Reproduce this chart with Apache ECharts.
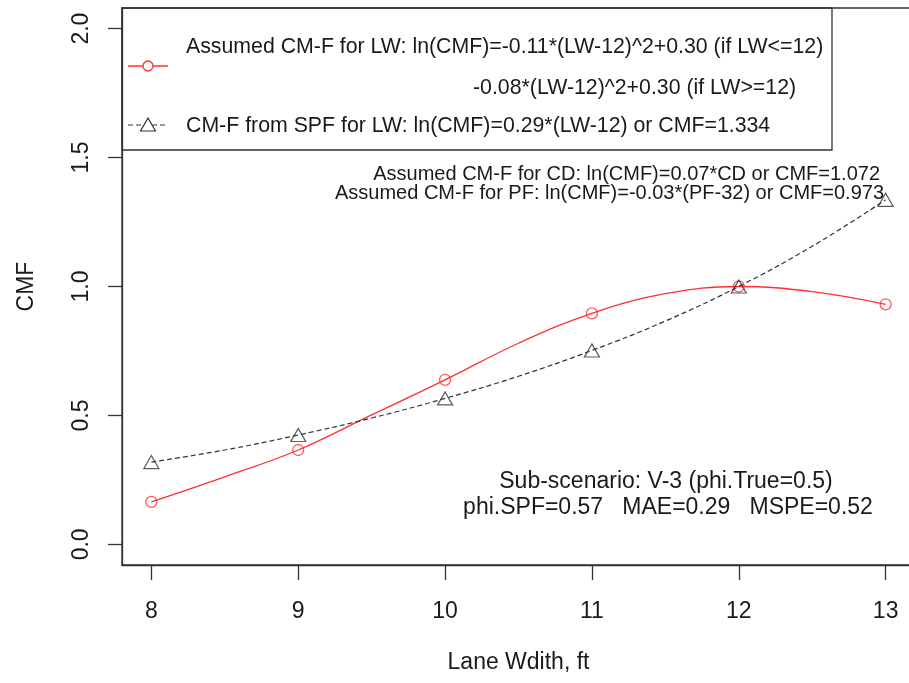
<!DOCTYPE html>
<html><head><meta charset="utf-8">
<script src="https://cdn.jsdelivr.net/npm/echarts@6/dist/echarts.min.js"></script>
<style>html,body{margin:0;padding:0;background:#fff}#c{width:909px;height:683px}</style>
</head><body><div id="c"></div>
<script>
// Data
const lwCurve = [8, 8.5, 9, 9.5, 10, 10.5, 11, 11.5, 12, 12.5, 13];
const assumedCMF = [0.165, 0.262, 0.366, 0.502, 0.638, 0.78, 0.896, 0.972, 1.0, 0.98, 0.931];
const spfCMF = [0.319, 0.366, 0.424, 0.49, 0.566, 0.652, 0.752, 0.866, 1.0, 1.156, 1.336];
const xTicks = [8, 9, 10, 11, 12, 13];
const yTicks = [0, 0.5, 1.0, 1.5, 2.0];

const legendLines = [
  'Assumed CM-F for LW: ln(CMF)=-0.11*(LW-12)^2+0.30 (if LW<=12)',
  '-0.08*(LW-12)^2+0.30 (if LW>=12)',
  'CM-F from SPF for LW: ln(CMF)=0.29*(LW-12) or CMF=1.334'
];
const noteTop = [
  'Assumed CM-F for CD: ln(CMF)=0.07*CD or CMF=1.072',
  'Assumed CM-F for PF: ln(CMF)=-0.03*(PF-32) or CMF=0.973'
];
const noteBottom = [
  'Sub-scenario: V-3 (phi.True=0.5)',
  'phi.SPF=0.57   MAE=0.29   MSPE=0.52'
];

const FONT = '"Liberation Sans", Arial, sans-serif';
const FS = 23;
const TXT = '#1a1a1a';
const AX = '#333';

const pair = (xs, ys) => xs.map((x, i) => [x, ys[i]]);
const atTicks = (xs, ys) => xs.map((x, i) => [x, ys[i]]).filter(p => xTicks.includes(p[0]));

const chart = echarts.init(document.getElementById('c'), null, {renderer: 'canvas'});

function txt(x, y, s, align, fs) {
  return {type: 'text', x: x, y: y, silent: true,
    style: {text: s, font: (fs || FS) + 'px ' + FONT, fill: TXT, align: align || 'left', verticalAlign: 'middle'}};
}

chart.setOption({
  animation: false,
  backgroundColor: '#fff',
  grid: {left: 122, top: 8, width: 793, height: 557, show: true, borderColor: AX, borderWidth: 1.3,
    backgroundColor: 'transparent', containLabel: false, outerBoundsMode: 'none'},
  xAxis: {
    type: 'value', min: 7.8, max: 13.2,
    name: 'Lane Wdith, ft', nameLocation: 'middle', nameGap: 86,
    nameTextStyle: {fontFamily: FONT, fontSize: FS, color: TXT},
    axisLine: {show: true, onZero: false, lineStyle: {color: AX, width: 1.3}},
    axisTick: {show: true, length: 15, customValues: xTicks, lineStyle: {color: AX, width: 1.3}},
    axisLabel: {customValues: xTicks, margin: 35, fontFamily: FONT, fontSize: FS, color: TXT},
    splitLine: {show: false}
  },
  yAxis: {
    type: 'value', min: -0.08, max: 2.08,
    name: 'CMF', nameLocation: 'middle', nameGap: 84,
    nameTextStyle: {fontFamily: FONT, fontSize: FS, color: TXT},
    axisLine: {show: true, onZero: false, lineStyle: {color: AX, width: 1.3}},
    axisTick: {show: true, length: 14, customValues: yTicks, lineStyle: {color: AX, width: 1.3}},
    axisLabel: {customValues: yTicks, rotate: 90, margin: 29, fontFamily: FONT, fontSize: FS, color: TXT,
      formatter: v => v.toFixed(1)},
    splitLine: {show: false}
  },
  series: [
    {type: 'line', data: pair(lwCurve, assumedCMF), smooth: 0.4, showSymbol: false,
      lineStyle: {color: '#ff3030', width: 1.3}, z: 3},
    {type: 'scatter', data: atTicks(lwCurve, assumedCMF), symbol: 'circle', symbolSize: 11,
      itemStyle: {color: 'transparent', borderColor: '#ff3333', borderWidth: 1.3}, z: 4},
    {type: 'line', data: pair(lwCurve, spfCMF), smooth: 0.4, showSymbol: false,
      lineStyle: {color: '#333', width: 1.2, type: [5, 3]}, z: 3},
    {type: 'scatter', data: atTicks(lwCurve, spfCMF), symbol: 'triangle', symbolSize: [15, 13],
      itemStyle: {color: 'transparent', borderColor: '#333', borderWidth: 1.2}, z: 4}
  ],
  graphic: [
    {type: 'rect', shape: {x: 122, y: 8, width: 710, height: 142}, silent: true,
      style: {fill: 'transparent', stroke: AX, lineWidth: 1.3}},
    {type: 'line', shape: {x1: 128, y1: 66, x2: 168, y2: 66}, silent: true, style: {stroke: '#ff3333', lineWidth: 1.3}},
    {type: 'circle', shape: {cx: 148, cy: 66, r: 5}, silent: true, style: {fill: '#fff', stroke: '#ff3333', lineWidth: 1.3}},
    {type: 'line', shape: {x1: 128, y1: 125, x2: 168, y2: 125}, silent: true, style: {stroke: '#333', lineWidth: 1.2, lineDash: [5, 3]}},
    {type: 'polygon', shape: {points: [[148, 118], [155.5, 131], [140.5, 131]]}, silent: true, style: {fill: '#fff', stroke: '#333', lineWidth: 1.2}},
    txt(186, 47, legendLines[0], 'left', 21.3),
    txt(473, 88, legendLines[1], 'left', 21.3),
    txt(186, 126, legendLines[2], 'left', 21.3),
    txt(880, 174, noteTop[0], 'right', 20),
    txt(884, 193, noteTop[1], 'right', 20),
    txt(666, 482, noteBottom[0], 'center'),
    txt(668, 508, noteBottom[1], 'center')
  ]
});
</script>
</body></html>
